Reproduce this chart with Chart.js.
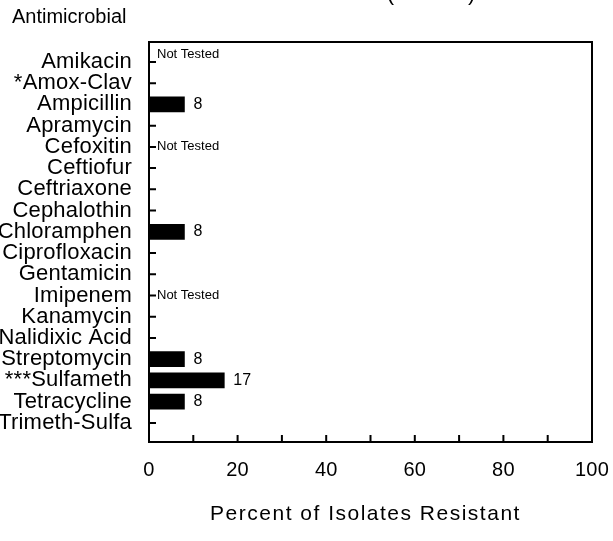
<!DOCTYPE html>
<html>
<head>
<meta charset="utf-8">
<script src="https://cdn.jsdelivr.net/npm/chart.js"></script>
<style>
	body { margin: 0; background: #fff; }
	canvas { display: block; }
</style>
</head>
<body>
<canvas id="graficoResistencia" width="613" height="541"></canvas>
<script>
// Antimicrobials (y axis, top to bottom)
const antimicrobials = ['Amikacin', '*Amox-Clav', 'Ampicillin', 'Apramycin', 'Cefoxitin', 'Ceftiofur',
	'Ceftriaxone', 'Cephalothin', '*Chloramphen', 'Ciprofloxacin', 'Gentamicin', 'Imipenem',
	'Kanamycin', 'Nalidixic Acid', 'Streptomycin', '***Sulfameth', 'Tetracycline', '*Trimeth-Sulfa'];
// Percent of isolates resistant, null = not tested
const percentResistant = [null, 0, 8, 0, null, 0, 0, 0, 8, 0, 0, null, 0, 0, 8, 17, 8, 0];
// x axis labels and tick marks
const xLabels = [0, 20, 40, 60, 80, 100];
const xTickMarks = [0, 10, 20, 30, 40, 50, 60, 70, 80, 90, 100];

const fonte = '"Liberation Sans", Arial, sans-serif';

// Box, inward ticks and the texts
const desenho = {
	id: 'desenho',
	beforeDraw(chart) {
		chart.ctx.letterSpacing = '0.2px';
	},
	afterDraw(chart) {
		const ctx = chart.ctx;
		const area = chart.chartArea;
		const x = chart.scales.x;
		const y = chart.scales.y;
		ctx.save();
		ctx.strokeStyle = '#000';
		ctx.lineWidth = 2;
		ctx.strokeRect(area.left, area.top, area.right - area.left, area.bottom - area.top);
		ctx.beginPath();
		antimicrobials.forEach((nome, i) => {
			const py = y.getPixelForValue(i);
			ctx.moveTo(area.left, py);
			ctx.lineTo(area.left + 7, py);
		});
		xTickMarks.forEach(v => {
			const px = x.getPixelForValue(v);
			ctx.moveTo(px, area.bottom);
			ctx.lineTo(px, area.bottom - 7);
		});
		ctx.stroke();

		ctx.fillStyle = '#000';
		ctx.textAlign = 'left';
		ctx.textBaseline = 'middle';
		ctx.letterSpacing = '0px';
		const meta = chart.getDatasetMeta(0);
		percentResistant.forEach((v, i) => {
			const py = y.getPixelForValue(i);
			if (v === null) {
				ctx.font = '13px ' + fonte;
				ctx.fillText('Not Tested', area.left + 8, py - (i === 0 ? 8 : 0));
			} else if (v > 0) {
				ctx.font = '16px ' + fonte;
				ctx.fillText(String(v), meta.data[i].x + 9, py);
			}
		});

		// axis titles
		ctx.textBaseline = 'alphabetic';
		ctx.font = '20px ' + fonte;
		ctx.fillText('Antimicrobial', 12, 23);
		ctx.textAlign = 'center';
		ctx.font = '22px ' + fonte;
		ctx.fillText('( n = 12 )', 431, 0);
		ctx.font = '21px ' + fonte;
		ctx.letterSpacing = '1.5px';
		ctx.fillText('Percent of Isolates Resistant', (area.left + area.right) / 2 - 5, 520);
		ctx.restore();
	}
};

let grafico = new Chart(document.getElementById('graficoResistencia'), {
	type: 'bar',
	data: {
		datasets: [{
			data: antimicrobials.map((nome, i) => ({ x: percentResistant[i], y: i })),
			backgroundColor: '#000',
			borderWidth: 0,
			barThickness: 15
		}]
	},
	options: {
		indexAxis: 'y',
		responsive: false,
		animation: false,
		devicePixelRatio: 1,
		layout: { padding: { top: 42, right: 21, left: 0, bottom: 0 } },
		plugins: {
			legend: { display: false },
			tooltip: { enabled: false }
		},
		scales: {
			x: {
				type: 'linear',
				min: 0,
				max: 100,
				grid: { display: false, drawTicks: false },
				border: { display: false },
				afterBuildTicks: s => { s.ticks = xLabels.map(v => ({ value: v })); },
				afterFit: s => { s.height = 99; s.paddingLeft = 0; s.paddingRight = 0; },
				ticks: { color: '#000', padding: 16, maxRotation: 0, font: { family: fonte, size: 20 } }
			},
			y: {
				type: 'linear',
				reverse: true,
				offset: false,
				min: -0.94,
				max: 17.9,
				grid: { display: false, drawTicks: false, offset: false },
				border: { display: false },
				afterBuildTicks: s => { s.ticks = antimicrobials.map((nome, i) => ({ value: i })); },
				afterFit: s => { s.width = 149; s.paddingTop = 0; s.paddingBottom = 0; },
				ticks: {
					color: '#000',
					padding: 17,
					autoSkip: false,
					font: { family: fonte, size: 22 },
					callback: v => antimicrobials[v]
				}
			}
		}
	},
	plugins: [desenho]
});
</script>
</body>
</html>
